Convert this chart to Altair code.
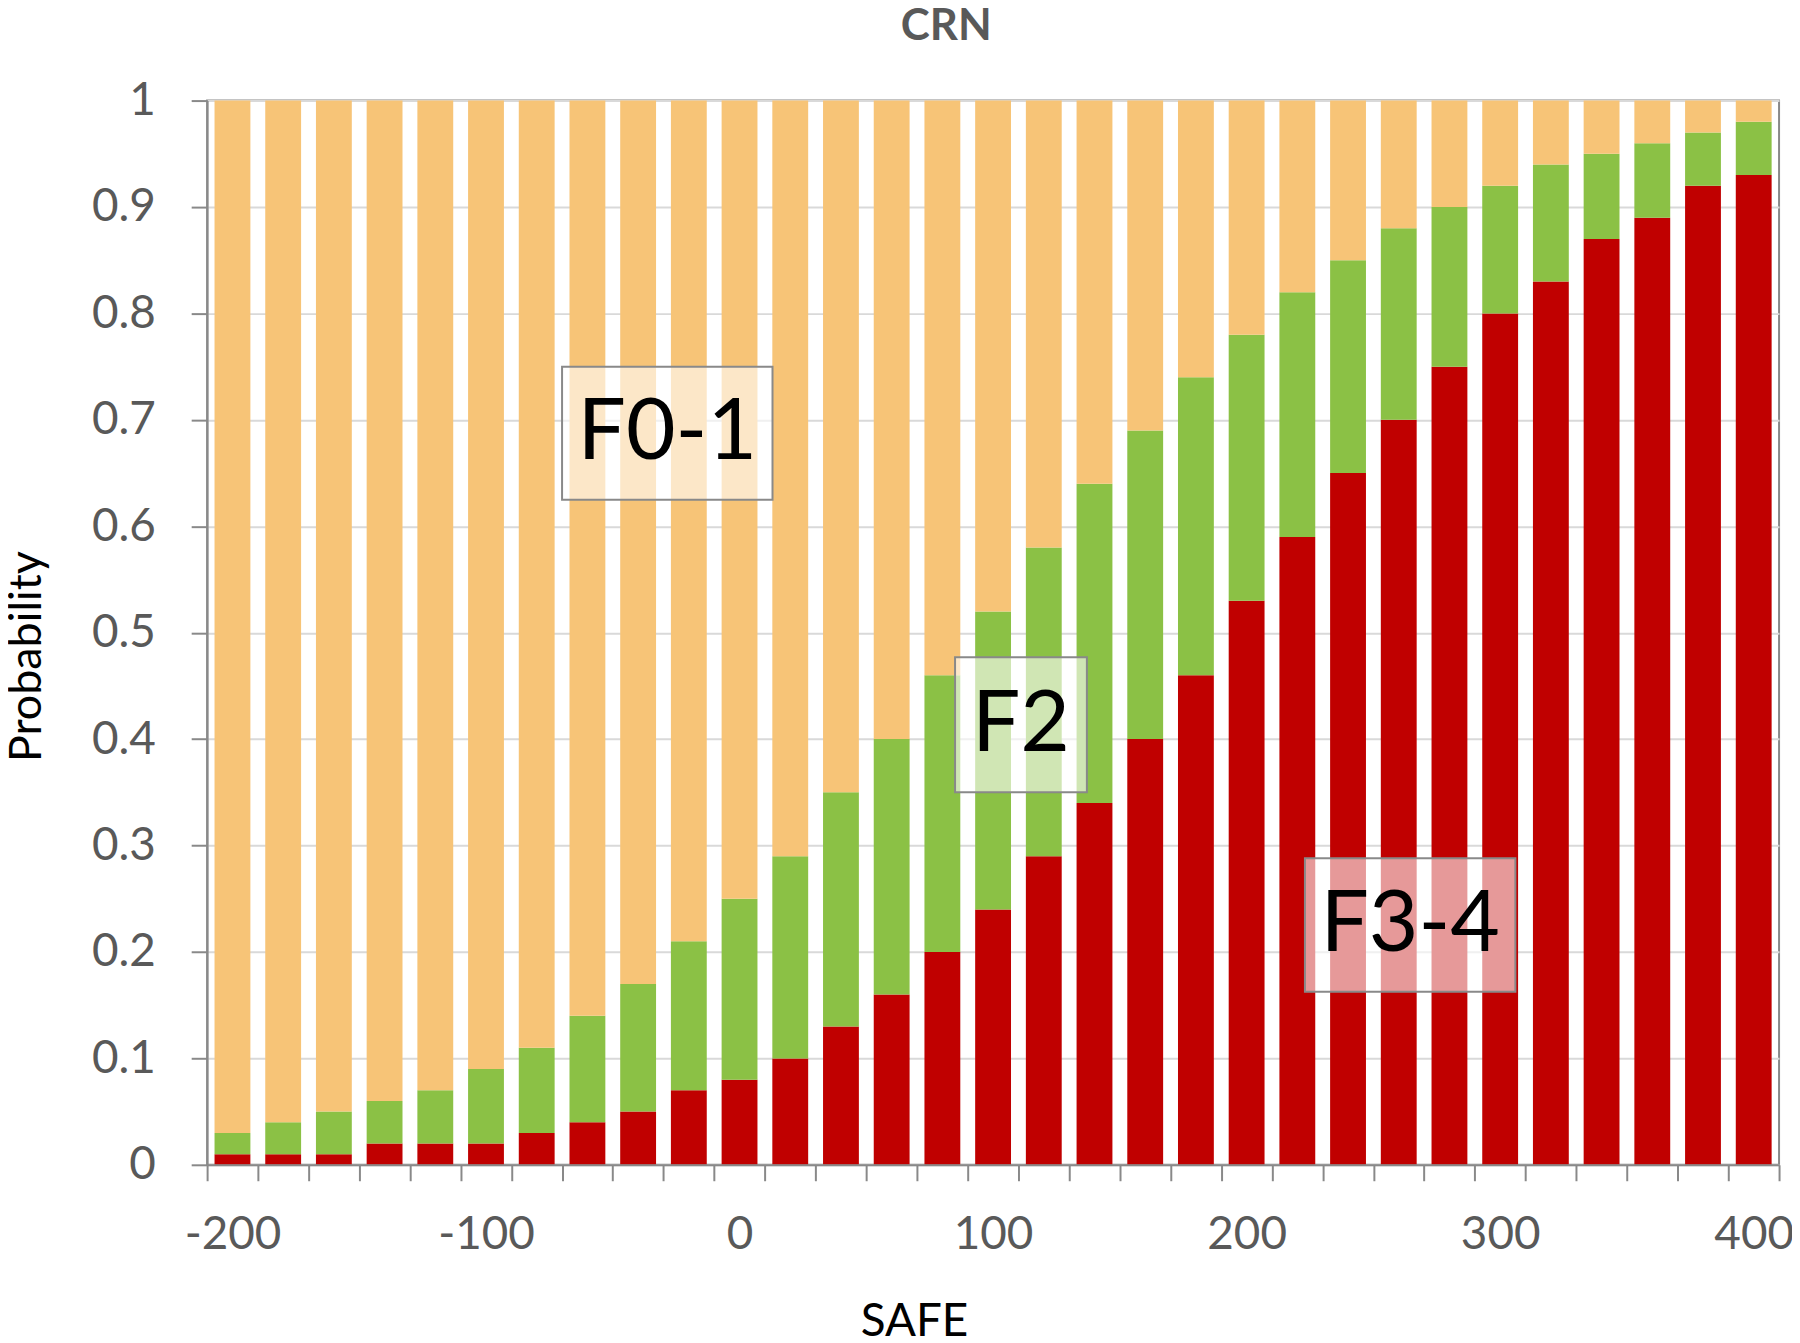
import altair as alt
import pandas as pd

# ---- data ----
safe = [-200, -180, -160, -140, -120, -100, -80, -60, -40, -20, 0, 20, 40, 60, 80,
        100, 120, 140, 160, 180, 200, 220, 240, 260, 280, 300, 320, 340, 360, 380, 400]
f34 = [0.01, 0.01, 0.01, 0.02, 0.02, 0.02, 0.03, 0.04, 0.05, 0.07, 0.08, 0.10, 0.13, 0.16, 0.20,
       0.24, 0.29, 0.34, 0.40, 0.46, 0.53, 0.59, 0.65, 0.70, 0.75, 0.80, 0.83, 0.87, 0.89, 0.92, 0.93]
f2 = [0.02, 0.03, 0.04, 0.04, 0.05, 0.07, 0.08, 0.10, 0.12, 0.14, 0.17, 0.19, 0.22, 0.24, 0.26,
      0.28, 0.29, 0.30, 0.29, 0.28, 0.25, 0.23, 0.20, 0.18, 0.15, 0.12, 0.11, 0.08, 0.07, 0.05, 0.05]
f01 = [0.97, 0.96, 0.95, 0.94, 0.93, 0.91, 0.89, 0.86, 0.83, 0.79, 0.75, 0.71, 0.65, 0.60, 0.54,
       0.48, 0.42, 0.36, 0.31, 0.26, 0.22, 0.18, 0.15, 0.12, 0.10, 0.08, 0.06, 0.05, 0.04, 0.03, 0.02]
levels = ["F3-4", "F2", "F0-1"]
colors = ["#C00000", "#8BC145", "#F7C477"]
y_ticks = [0, 0.1, 0.2, 0.3, 0.4, 0.5, 0.6, 0.7, 0.8, 0.9, 1]

# annotation boxes (SAFE units / probability units)
ann_label = ["F0-1", "F2", "F3-4"]
ann_x1 = [-70, 85, 223]
ann_x2 = [13, 137, 306]
ann_y1 = [0.625, 0.35, 0.1625]
ann_y2 = [0.75, 0.477, 0.288]

rows = []
for i, s in enumerate(safe):
    for k, (lev, vals) in enumerate(zip(levels, [f34, f2, f01])):
        rows.append({"SAFE": s, "level": lev, "prob": vals[i], "order": k})
df = pd.DataFrame(rows)

ann = pd.DataFrame({"label": ann_label, "x1": ann_x1, "x2": ann_x2, "y1": ann_y1, "y2": ann_y2})

FONT = "Lato"
GRAY = "#898989"
LABEL = "#595959"

ycommon = alt.Scale(domain=[0, 1], nice=False)
yaxis = alt.Axis(values=y_ticks, format=".1~f", title="Probability",
                 labelFont=FONT, labelFontSize=46, labelColor=LABEL, labelPadding=36,
                 tickSize=16, tickColor=GRAY, tickWidth=2,
                 domainColor=GRAY, domainWidth=2,
                 gridColor="#d9d9d9", gridWidth=2,
                 titleFont=FONT, titleFontSize=45, titleColor="black",
                 titleFontWeight="normal", titleX=-167, titleY=558,
                 titleBaseline="alphabetic", titleAngle=-90, titleAlign="center")

bars = alt.Chart(df).mark_bar(width={"band": 0.707}).encode(
    x=alt.X("SAFE:O", sort=safe,
            scale=alt.Scale(paddingInner=0, paddingOuter=0),
            axis=alt.Axis(title="SAFE", labelExpr="datum.value % 100 === 0 ? datum.label : ''",
                          labelAngle=0, tickBand="extent", grid=False, zindex=1,
                          labelFont=FONT, labelFontSize=46, labelColor=LABEL, labelPadding=32,
                          tickSize=16, tickColor=GRAY, tickWidth=2,
                          domainColor=GRAY, domainWidth=2,
                          titleFont=FONT, titleFontSize=46, titleColor="black",
                          titleFontWeight="normal", titleX=710, titleY=171,
                          titleBaseline="alphabetic")),
    y=alt.Y("prob:Q", stack="zero", scale=ycommon, axis=yaxis, title="Probability"),
    color=alt.Color("level:N", scale=alt.Scale(domain=levels, range=colors), legend=None),
    order=alt.Order("order:Q", sort="ascending"),
)

xq = alt.Scale(domain=[-210, 410], nice=False, zero=False)

boxes = alt.Chart(ann).mark_rect(fill="white", fillOpacity=0.6, stroke=GRAY, strokeWidth=2).encode(
    x=alt.X("x1:Q", scale=xq, axis=None),
    x2="x2:Q",
    y=alt.Y("y1:Q", scale=ycommon, axis=yaxis, title="Probability"),
    y2="y2:Q",
)

texts = alt.Chart(ann).transform_calculate(
    xm="(datum.x1 + datum.x2) / 2", ym="(datum.y1 + datum.y2) / 2"
).mark_text(font=FONT, fontSize=86, color="black", baseline="middle", align="center").encode(
    x=alt.X("xm:Q", scale=xq, axis=None),
    y=alt.Y("ym:Q", scale=ycommon, axis=yaxis, title="Probability"),
    text="label:N",
)

chart = alt.layer(bars, boxes, texts).resolve_scale(x="independent").properties(
    width=1579, height=1069,
    title=alt.TitleParams(text="CRN", font=FONT, fontSize=44, fontWeight="bold", color=LABEL,
                          anchor="middle", dx=-47, frame="group", offset=29),
    autosize=alt.AutoSizeParams(type="none"),
    padding={"left": 200, "top": 90, "right": 13, "bottom": 176},
).configure_view(stroke=GRAY, strokeWidth=2)

chart.save("out.html", embed_options={"renderer": "svg", "actions": False})
